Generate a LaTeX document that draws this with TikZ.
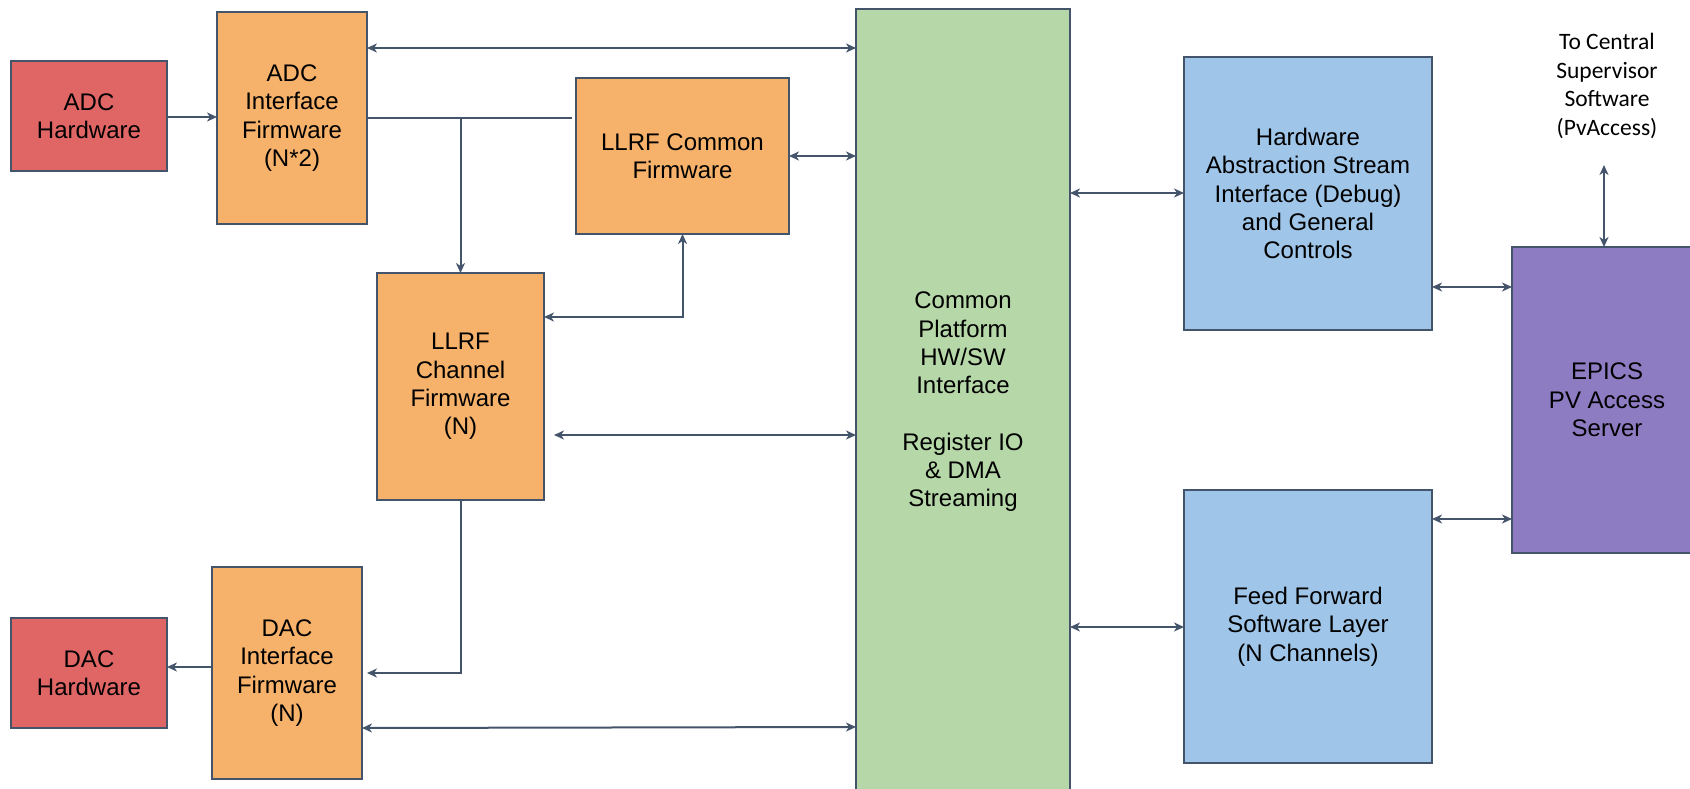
\documentclass[tikz,border=0pt]{standalone}
\usepackage{fontspec}
\setmainfont{Liberation Sans}
\newfontfamily\notefont{Carlito}
\usetikzlibrary{arrows.meta}
\definecolor{edge}{HTML}{44546A}
\definecolor{hwred}{HTML}{E06666}
\definecolor{fwor}{HTML}{F6B26B}
\definecolor{platgr}{HTML}{B6D7A8}
\definecolor{swbl}{HTML}{9FC5E8}
\definecolor{srvpu}{HTML}{8E7CC3}
\tikzset{
  blk/.style={draw=edge, line width=2pt, rectangle, outer sep=0pt, inner sep=0pt,
    align=center, font=\fontsize{24}{28.3}\selectfont},
  link/.style={draw=edge, line width=2pt},
  >={Stealth[length=10pt,width=9pt,inset=3pt]}
}
\begin{document}
\begin{tikzpicture}[x=1pt,y=-1pt]
\useasboundingbox (0,0) rectangle (1690,789);
\clip (0,0) rectangle (1690,789);
\fill[white] (0,0) rectangle (1690,789);

% hardware blocks
\node[blk, fill=hwred, minimum width=156pt, minimum height=110pt] (adchw) at (89,116) {ADC\\Hardware};
\node[blk, fill=hwred, minimum width=156pt, minimum height=110pt] (dachw) at (89,673) {DAC\\Hardware};

% firmware blocks
\node[blk, fill=fwor, minimum width=150pt, minimum height=212pt] (adcif) at (292,118) {ADC\\Interface\\Firmware\\(N*2)};
\node[blk, fill=fwor, minimum width=213pt, minimum height=156pt] (common) at (682.5,156) {LLRF Common\\Firmware};
\node[blk, fill=fwor, minimum width=167pt, minimum height=227pt] (channel) at (460.5,386.5) {LLRF\\Channel\\Firmware\\(N)};
\node[blk, fill=fwor, minimum width=150pt, minimum height=212pt] (dacif) at (287,673) {DAC\\Interface\\Firmware\\(N)};

% platform interface
\node[blk, fill=platgr, minimum width=214pt, minimum height=786pt] (green) at (963,402)
  {Common\\Platform\\HW/SW\\Interface\\[28.3pt]Register IO\\\& DMA\\Streaming};

% software blocks
\node[blk, fill=swbl, minimum width=248pt, minimum height=273pt] (hwabs) at (1308,193.5)
  {Hardware\\Abstraction Stream\\Interface (Debug)\\and General\\Controls};
\node[blk, fill=swbl, minimum width=248pt, minimum height=273pt] (ff) at (1308,626.5)
  {Feed Forward\\Software Layer\\(N Channels)};
\node[blk, fill=srvpu, minimum width=190pt, minimum height=306pt] (epics) at (1607,400)
  {EPICS\\PV Access\\Server};

\node[align=center, inner sep=0pt, font=\notefont\fontsize{23.5}{28.7}\selectfont] (csup) at (1607,86)
  {To Central\\Supervisor\\Software\\(PvAccess)};
\coordinate (csend) at (1604,165);

% connectors
\coordinate (split) at (channel.north |- 0,118);
\draw[link, <->] (adcif.east |- 0,48) -- (green.west |- 0,48);
\draw[link, ->] (adchw.east |- 0,117) -- (adcif.west |- 0,117);
\draw[link, shorten >=4pt] (adcif.east |- 0,118) -- (common.west |- 0,118);
\draw[link, ->] (split) -- (channel.north);
\draw[link, <->] (common.east) -- (green.west |- common.east);
\draw[link, <->] (channel.east |- 0,317) -| (common.south);
\draw[link, <->, shorten <=10pt] (channel.east |- 0,435) -- (green.west |- 0,435);
\draw[link, ->, shorten >=5pt] (channel.south) |- (dacif.east |- 0,673);
\draw[link, ->] (dacif.west |- 0,667) -- (dachw.east |- 0,667);
\draw[link, <->] (dacif.east |- 0,728) -- (green.west |- 0,727);
\draw[link, <->] (green.east |- 0,193) -- (hwabs.west |- 0,193);
\draw[link, <->] (hwabs.east |- 0,287) -- (epics.west |- 0,287);
\draw[link, <->] (green.east |- 0,627) -- (ff.west |- 0,627);
\draw[link, <->] (ff.east |- 0,519) -- (epics.west |- 0,519);
\draw[link, <->] (csend) -- (epics.north -| csend);
\end{tikzpicture}
\end{document}
